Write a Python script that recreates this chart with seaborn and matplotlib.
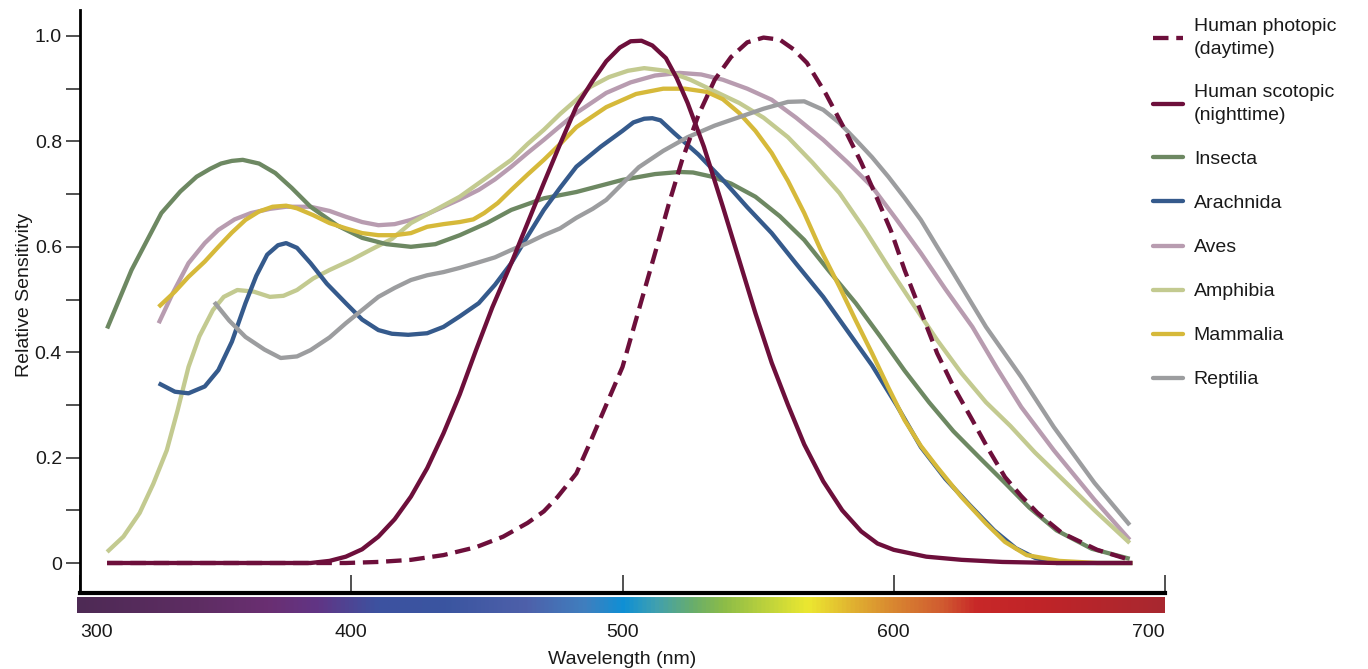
import numpy as np
import pandas as pd
import seaborn as sns
import matplotlib.pyplot as plt
from matplotlib.colors import LinearSegmentedColormap

# ------------------------------------------- data ---------------------------------------------------------------------

photopic_nm = [310, 380, 398, 410, 422, 434, 446, 456, 465, 471, 476, 483, 488, 494, 500, 506, 512, 517, 522,
               528, 534, 540, 546, 552, 558, 563, 568, 575, 582, 588, 593, 599, 604, 610, 616, 622, 629, 635,
               641, 647, 653, 662, 675, 687]
photopic_val = [0, 0, 0, 0.002, 0.006, 0.015, 0.03, 0.05, 0.076, 0.098, 0.125, 0.17, 0.228, 0.3, 0.372, 0.48,
                0.588, 0.68, 0.765, 0.85, 0.917, 0.96, 0.988, 0.997, 0.993, 0.975, 0.949, 0.89, 0.822, 0.76,
                0.702, 0.63, 0.556, 0.477, 0.398, 0.335, 0.271, 0.215, 0.163, 0.127, 0.095, 0.057, 0.025, 0.006]

scotopic_nm = [310, 340, 385, 392, 398, 404, 410, 416, 422, 428, 434, 440, 446, 452, 459, 465, 471, 477, 483,
               489, 494, 499, 503, 507, 511, 516, 520, 524, 530, 537, 543, 549, 555, 561, 567, 574, 581, 588,
               594, 600, 612, 625, 640, 660, 688]
scotopic_val = [0, 0, 0, 0.004, 0.012, 0.026, 0.05, 0.083, 0.126, 0.18, 0.246, 0.32, 0.404, 0.485, 0.569, 0.645,
                0.721, 0.795, 0.866, 0.915, 0.952, 0.978, 0.99, 0.991, 0.982, 0.958, 0.92, 0.873, 0.79, 0.676,
                0.575, 0.474, 0.38, 0.3, 0.225, 0.155, 0.1, 0.06, 0.037, 0.025, 0.012, 0.006, 0.002, 0, 0]

insecta_nm = [310, 319, 330, 337, 343, 348, 352, 356, 360, 366, 372, 378, 385, 395, 404, 413, 422, 431, 440,
              450, 459, 471, 483, 500, 512, 521, 526, 533, 540, 549, 558, 567, 576, 586, 595, 604, 613, 622,
              632, 641, 650, 660, 673, 687]
insecta_val = [0.445, 0.556, 0.664, 0.705, 0.733, 0.748, 0.758, 0.763, 0.765, 0.758, 0.74, 0.712, 0.676, 0.64,
               0.617, 0.605, 0.6, 0.605, 0.622, 0.645, 0.67, 0.692, 0.704, 0.727, 0.738, 0.742, 0.741, 0.733,
               0.72, 0.695, 0.658, 0.613, 0.555, 0.493, 0.43, 0.365, 0.305, 0.25, 0.198, 0.152, 0.105, 0.062,
               0.027, 0.008]

arachnida_nm = [329, 335, 340, 346, 351, 356, 361, 365, 369, 373, 376, 380, 385, 391, 398, 404, 410, 415, 421,
                428, 434, 440, 447, 453, 459, 465, 471, 477, 483, 492, 500, 504, 508, 511, 514, 519, 528, 537,
                546, 555, 564, 574, 583, 592, 601, 610, 619, 628, 637, 645, 652, 660, 675, 688]
arachnida_val = [0.341, 0.325, 0.322, 0.335, 0.366, 0.42, 0.493, 0.545, 0.585, 0.603, 0.607, 0.598, 0.569, 0.53,
                 0.493, 0.462, 0.442, 0.435, 0.433, 0.436, 0.448, 0.468, 0.493, 0.528, 0.569, 0.62, 0.67, 0.712,
                 0.752, 0.79, 0.82, 0.836, 0.843, 0.844, 0.84, 0.816, 0.775, 0.727, 0.675, 0.626, 0.568, 0.505,
                 0.44, 0.375, 0.3, 0.22, 0.16, 0.11, 0.062, 0.028, 0.01, 0, 0, 0]

aves_nm = [329, 334, 340, 346, 351, 357, 363, 370, 376, 385, 392, 398, 404, 410, 416, 422, 428, 434, 440, 447,
           453, 459, 465, 471, 477, 483, 494, 503, 512, 521, 529, 537, 546, 555, 564, 574, 583, 592, 601, 610,
           619, 629, 638, 647, 659, 674, 687]
aves_val = [0.455, 0.51, 0.569, 0.607, 0.632, 0.652, 0.664, 0.672, 0.676, 0.676, 0.668, 0.657, 0.647, 0.641,
            0.643, 0.651, 0.662, 0.676, 0.69, 0.708, 0.728, 0.752, 0.778, 0.803, 0.829, 0.854, 0.892, 0.912,
            0.925, 0.93, 0.927, 0.917, 0.9, 0.879, 0.845, 0.803, 0.76, 0.714, 0.652, 0.588, 0.52, 0.448, 0.37,
            0.296, 0.214, 0.12, 0.044]

amphibia_nm = [310, 316, 322, 327, 332, 336, 340, 344, 349, 353, 358, 364, 370, 375, 380, 386, 392, 400, 407,
               415, 422, 431, 440, 449, 459, 465, 471, 477, 483, 488, 495, 502, 508, 516, 525, 534, 543, 552,
               561, 570, 580, 589, 598, 607, 616, 625, 634, 643, 652, 662, 674, 687]
amphibia_val = [0.021, 0.05, 0.095, 0.15, 0.214, 0.29, 0.372, 0.43, 0.48, 0.505, 0.518, 0.515, 0.505, 0.507,
                0.518, 0.54, 0.556, 0.575, 0.594, 0.615, 0.645, 0.67, 0.695, 0.728, 0.765, 0.795, 0.822, 0.852,
                0.879, 0.903, 0.922, 0.934, 0.939, 0.934, 0.917, 0.895, 0.873, 0.845, 0.808, 0.76, 0.702, 0.635,
                0.562, 0.492, 0.423, 0.36, 0.305, 0.26, 0.21, 0.16, 0.1, 0.038]

mammalia_nm = [329, 335, 340, 346, 351, 356, 361, 366, 371, 376, 380, 386, 392, 398, 404, 410, 416, 422, 428,
               434, 440, 445, 449, 454, 459, 465, 471, 477, 483, 494, 505, 515, 523, 531, 537, 543, 549, 555,
               561, 567, 573, 580, 586, 592, 598, 604, 610, 616, 625, 634, 641, 649, 661, 675, 688]
mammalia_val = [0.486, 0.515, 0.543, 0.572, 0.6, 0.627, 0.651, 0.667, 0.676, 0.678, 0.673, 0.66, 0.645, 0.635,
                0.626, 0.622, 0.622, 0.626, 0.638, 0.643, 0.647, 0.652, 0.664, 0.683, 0.708, 0.737, 0.765,
                0.795, 0.827, 0.865, 0.89, 0.9, 0.9, 0.894, 0.88, 0.854, 0.82, 0.778, 0.725, 0.664, 0.595,
                0.524, 0.46, 0.398, 0.333, 0.271, 0.222, 0.182, 0.125, 0.075, 0.04, 0.015, 0.004, 0, 0]

reptilia_nm = [349.5, 355, 361, 368, 374, 380, 385, 392, 398, 404, 410, 416, 422, 428, 434, 440, 446, 453, 459,
               465, 471, 477, 483, 489, 494, 500, 506, 515, 524, 534, 543, 552, 561, 567, 574, 580, 586, 592,
               598, 604, 610, 616, 622, 634, 647, 659, 674, 687]
reptilia_val = [0.495, 0.46, 0.429, 0.405, 0.389, 0.392, 0.404, 0.428, 0.455, 0.48, 0.505, 0.522, 0.537, 0.546,
                0.552, 0.56, 0.569, 0.58, 0.594, 0.607, 0.622, 0.635, 0.655, 0.672, 0.689, 0.72, 0.751, 0.782,
                0.808, 0.83, 0.846, 0.862, 0.875, 0.876, 0.86, 0.835, 0.803, 0.77, 0.733, 0.693, 0.651, 0.6,
                0.55, 0.448, 0.353, 0.258, 0.152, 0.072]

series_names = ["Human photopic\n(daytime)", "Human scotopic\n(nighttime)", "Insecta", "Arachnida",
                "Aves", "Amphibia", "Mammalia", "Reptilia"]
series_nm = [photopic_nm, scotopic_nm, insecta_nm, arachnida_nm, aves_nm, amphibia_nm, mammalia_nm, reptilia_nm]
series_val = [photopic_val, scotopic_val, insecta_val, arachnida_val, aves_val, amphibia_val, mammalia_val,
              reptilia_val]

x_ticks = [300, 400, 500, 600, 700]
y_ticks = [0, 0.1, 0.2, 0.3, 0.4, 0.5, 0.6, 0.7, 0.8, 0.9, 1.0]

# ------------------------------------------- style -----------------------------------------------

colors = ["#6d0f3b", "#6d0f3b", "#6d8862", "#355a8c", "#b89cb0", "#c3ca90", "#d6b93a", "#9c9d9f"]
palette = dict(zip(series_names, colors))
dashes = {name: "" for name in series_names}
dashes[series_names[0]] = (3.6, 1.8)

# spectrum colours along the wavelength bar
spec_nm = [300, 344, 370, 388, 410, 435, 465, 487, 501, 513, 527, 538, 569, 586, 600, 619, 631, 655, 700]
spec_col = ["#4e2a55", "#5e2d63", "#6a2f72", "#613585", "#3d52a0", "#3a55a0", "#4e60aa", "#3f7fbf",
            "#0f90d5", "#40a0b0", "#6aae6a", "#8cbc48", "#ece830", "#e0b030", "#d98830", "#d05a30",
            "#c82828", "#c02428", "#a82830"]

sns.set_style("white")
plt.rcParams["font.family"] = ["Liberation Sans", "DejaVu Sans"]
text_col = "#1a1a1a"

df = pd.concat([pd.DataFrame({"nm": n, "val": v, "series": s})
                for s, n, v in zip(series_names, series_nm, series_val)], ignore_index=True)

fig = plt.figure(figsize=(13.68, 6.69), dpi=100)
W, H = 1368, 669
ax = fig.add_axes([80 / W, 76 / H, (1165 - 80) / W, (593 - 10) / H])

sns.lineplot(data=df, x="nm", y="val", hue="series", style="series", hue_order=series_names,
             style_order=series_names, palette=palette, dashes=dashes, estimator=None, sort=False,
             linewidth=3.1, ax=ax)

# humans on top
zorders = [9, 8, 3, 4, 2, 2.5, 5, 6]
for line, z in zip(ax.lines, zorders):
    line.set_zorder(z)
    line.set_solid_capstyle("butt")
    line.set_solid_joinstyle("round")

ax.set_xlim(300, 700)
ax.set_ylim(-(593 - 563) / 527, (563 - 10) / 527)

sns.despine(ax=ax)
ax.spines["left"].set_linewidth(2)
ax.spines["bottom"].set_linewidth(3)
ax.spines["left"].set_color("black")
ax.spines["bottom"].set_color("black")

ax.set_yticks(y_ticks)
ax.set_yticklabels(["0" if t == 0 else ("%.1f" % t if round(t * 10) % 2 == 0 else "") for t in y_ticks])
ax.tick_params(axis="y", direction="out", length=10, width=1.2, color="#333333", pad=3,
               labelsize=14, labelcolor=text_col, left=True)
ax.set_xticks(x_ticks)
ax.set_xticklabels([str(t) for t in x_ticks])
ax.tick_params(axis="x", direction="in", length=13, width=1.2, color="#333333", pad=22,
               labelsize=14, labelcolor=text_col, bottom=True)
xl = ax.get_xticklabels()
xl[0].set_ha("left")
xl[-1].set_ha("right")

ax.set_ylabel("Relative Sensitivity", fontsize=14, color=text_col)
ax.yaxis.set_label_coords(-0.043, (563 - 265) / 583)
ax.set_xlabel("Wavelength (nm)", fontsize=14, color=text_col)
ax.xaxis.set_label_coords(0.5, -(651 - 593) / 583)

# wavelength colour bar
cmap = LinearSegmentedColormap.from_list(
    "spectrum", [((n - 300) / 400, c) for n, c in zip(spec_nm, spec_col)])
cax = fig.add_axes([77 / W, (H - 613) / H, (1165 - 77) / W, 16 / H])
cax.imshow(np.linspace(0, 1, 512)[None, :], aspect="auto", cmap=cmap, extent=(0, 1, 0, 1))
cax.set_axis_off()

# legend
handles, labels = ax.get_legend_handles_labels()
ax.legend_.remove()
leg = fig.legend(handles, labels, loc="upper left", bbox_to_anchor=(1153 / W, (H - 18) / H),
                 bbox_transform=fig.transFigure, frameon=False, fontsize=14, handlelength=1.55,
                 handletextpad=0.55, labelspacing=1.36, borderpad=0, borderaxespad=0, labelcolor=text_col)
for t in leg.get_texts():
    t.set_linespacing(1.45)

fig.savefig("out.png", dpi=100)
